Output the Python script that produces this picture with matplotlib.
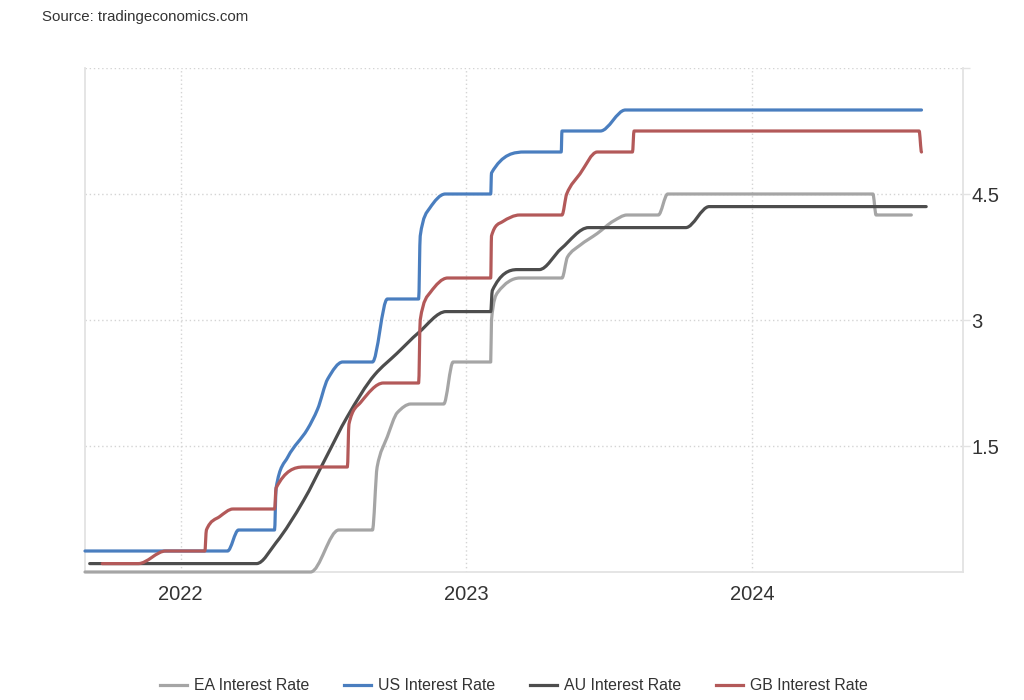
import numpy as np
import matplotlib
matplotlib.use('Agg')
import matplotlib.pyplot as plt
import matplotlib.dates as mdates
from matplotlib.path import Path
from matplotlib.patches import PathPatch
from matplotlib.lines import Line2D
from matplotlib import font_manager

plt.rcParams['font.family'] = ['Liberation Sans', 'DejaVu Sans']

# values (date, rate in %)
ea_dates = ['2021-09-01', '2022-06-16', '2022-07-22', '2022-09-03', '2022-09-09', '2022-09-22',
            '2022-10-05', '2022-10-22', '2022-12-03', '2022-12-15', '2023-02-01', '2023-02-02',
            '2023-02-10', '2023-03-10', '2023-05-03', '2023-05-10', '2023-05-26', '2023-06-17',
            '2023-07-08', '2023-07-25', '2023-09-03', '2023-09-15', '2024-06-03', '2024-06-07',
            '2024-07-22']
ea_rate = [0.0, 0.0, 0.5, 0.5, 1.25, 1.61, 1.9, 2.0, 2.0, 2.5, 2.5, 3.0,
           3.33, 3.5, 3.5, 3.75, 3.89, 4.03, 4.18, 4.25, 4.25, 4.5, 4.5, 4.25, 4.25]

us_dates = ['2021-09-01', '2022-03-02', '2022-03-16', '2022-05-01', '2022-05-03', '2022-05-18',
            '2022-06-12', '2022-06-25', '2022-07-08', '2022-07-27', '2022-09-03', '2022-09-22',
            '2022-11-01', '2022-11-03', '2022-11-15', '2022-12-05', '2023-02-01', '2023-02-02',
            '2023-03-17', '2023-05-02', '2023-05-03', '2023-06-21', '2023-07-23', '2024-08-04']
us_rate = [0.25, 0.25, 0.5, 0.5, 1.0, 1.37, 1.70, 1.94, 2.30, 2.5, 2.5, 3.25,
           3.25, 4.0, 4.33, 4.5, 4.5, 4.75, 5.0, 5.0, 5.25, 5.25, 5.5, 5.5]

au_dates = ['2021-09-07', '2022-04-08', '2022-05-03', '2022-06-07', '2022-07-05', '2022-08-02',
            '2022-09-06', '2022-10-04', '2022-11-01', '2022-12-06', '2023-02-01', '2023-02-03',
            '2023-03-07', '2023-04-04', '2023-05-02', '2023-06-06', '2023-10-08', '2023-11-07',
            '2024-08-10']
au_rate = [0.1, 0.1, 0.35, 0.85, 1.35, 1.85, 2.35, 2.6, 2.85, 3.1, 3.1, 3.35,
           3.6, 3.6, 3.85, 4.1, 4.1, 4.35, 4.35]

gb_dates = ['2021-09-23', '2021-11-08', '2021-12-13', '2022-02-01', '2022-02-03', '2022-02-20',
            '2022-03-09', '2022-05-01', '2022-05-03', '2022-06-07', '2022-08-02', '2022-08-04',
            '2022-08-19', '2022-09-17', '2022-11-01', '2022-11-03', '2022-11-16', '2022-12-08',
            '2023-02-01', '2023-02-02', '2023-02-16', '2023-03-10', '2023-05-03', '2023-05-09',
            '2023-05-26', '2023-06-17', '2023-08-01', '2023-08-03', '2024-08-01', '2024-08-04']
gb_rate = [0.1, 0.1, 0.25, 0.25, 0.5, 0.66, 0.75, 0.75, 1.0, 1.25, 1.25, 1.76,
           2.02, 2.25, 2.25, 3.0, 3.33, 3.5, 3.5, 4.0, 4.17, 4.25, 4.25, 4.5,
           4.74, 5.0, 5.0, 5.25, 5.25, 5.0]

names = ['EA Interest Rate', 'US Interest Rate', 'AU Interest Rate', 'GB Interest Rate']
colors = ['#a5a5a5', '#4a7ebf', '#4d4d4d', '#b35959']
series = [(ea_dates, ea_rate), (us_dates, us_rate), (au_dates, au_rate), (gb_dates, gb_rate)]


def spline_path(xs, ys):
    # monotone cubic drawn as bezier segments (like a spline series)
    xs = np.asarray(xs, float)
    ys = np.asarray(ys, float)
    n = len(xs)
    h = np.diff(xs)
    d = np.diff(ys) / h
    m = np.zeros(n)
    for k in range(1, n - 1):
        if d[k - 1] * d[k] > 0:
            w1 = 2 * h[k] + h[k - 1]
            w2 = h[k] + 2 * h[k - 1]
            m[k] = (w1 + w2) / (w1 / d[k - 1] + w2 / d[k])
    verts = [(xs[0], ys[0])]
    codes = [Path.MOVETO]
    for k in range(n - 1):
        verts.append((xs[k] + h[k] / 3, ys[k] + m[k] * h[k] / 3))
        verts.append((xs[k + 1] - h[k] / 3, ys[k + 1] - m[k + 1] * h[k] / 3))
        verts.append((xs[k + 1], ys[k + 1]))
        codes += [Path.CURVE4] * 3
    return Path(verts, codes)


# narrow legend font if one is installed
installed = {f.name for f in font_manager.fontManager.ttflist}
if 'Liberation Sans Narrow' in installed:
    leg_family, leg_size = 'Liberation Sans Narrow', 13.5
elif 'DejaVu Sans Condensed' in installed:
    leg_family, leg_size = 'DejaVu Sans Condensed', 11.8
else:
    leg_family, leg_size = 'Liberation Sans', 11.4

fig = plt.figure(figsize=(10.24, 7.0), dpi=100)
ax = fig.add_axes([85 / 1024, 128 / 700, 878 / 1024, 504 / 700])
ax.xaxis_date()

for (dts, vals), col in zip(series, colors):
    xs = mdates.date2num(np.array(dts, dtype='datetime64[D]'))
    p = PathPatch(spline_path(xs, vals), fill=False, edgecolor=col, lw=2.3,
                  capstyle='round', joinstyle='round', clip_on=False, zorder=3)
    ax.add_patch(p)

ax.set_xlim(mdates.date2num(np.datetime64('2021-09-01')), mdates.date2num(np.datetime64('2024-09-26')))
ax.set_ylim(0, 6)

ax.xaxis.set_major_locator(mdates.YearLocator())
ax.xaxis.set_major_formatter(mdates.DateFormatter('%Y'))
ax.yaxis.tick_right()
ax.set_yticks([1.5, 3, 4.5, 6])
ax.set_yticklabels(['1.5', '3', '4.5', ''])

ax.grid(True, linestyle=(0, (1, 2)), color='#d4d4d4', lw=1)
ax.spines['top'].set_visible(False)
for s in ['left', 'right', 'bottom']:
    ax.spines[s].set_color('#e3e3e3')
    ax.spines[s].set_linewidth(1.3)

ax.tick_params(axis='x', length=0, pad=9, labelsize=14.5, labelcolor='#333333')
ax.tick_params(axis='y', length=5, width=1, color='#e3e3e3', pad=1,
               labelsize=14.5, labelcolor='#333333')

fig.text(42 / 1024, 1 - 17 / 700, 'Source: tradingeconomics.com', fontsize=10.8,
         color='#333333', va='center', ha='left')

handles = [Line2D([], [], color=c, lw=2.3) for c in colors]
leg = fig.legend(handles, names, loc='center', bbox_to_anchor=(0.502, 1 - 686 / 700), ncol=4,
                 frameon=False, handlelength=1.7, handletextpad=0.45, columnspacing=2.2,
                 prop={'family': [leg_family, 'DejaVu Sans'], 'size': leg_size})
for t in leg.get_texts():
    t.set_color('#333333')

fig.savefig('out.png', dpi=100)
